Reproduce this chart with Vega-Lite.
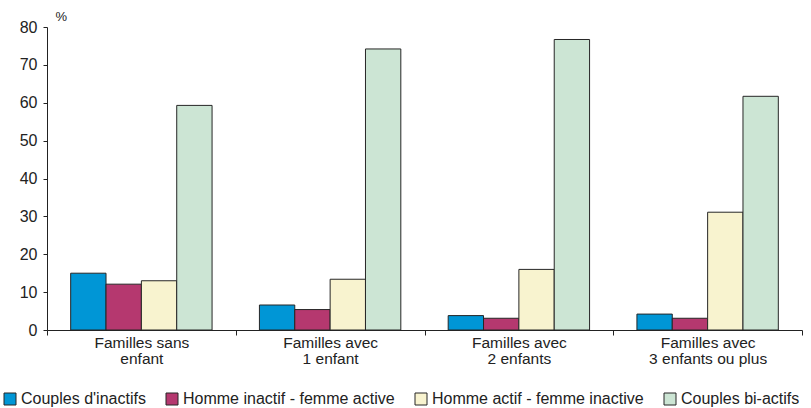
{
  "$schema": "https://vega.github.io/schema/vega-lite/v6.json",
  "autosize": "none",
  "width": 755,
  "height": 303,
  "padding": {"left": 47, "top": 27, "right": 9, "bottom": 78},
  "background": "white",
  "config": {
    "font": "Liberation Sans",
    "view": {"stroke": null},
    "axis": {"labelColor": "#222", "domainColor": "#222", "tickColor": "#222", "titleColor": "#222"}
  },
  "data": {
    "values": [
      {"famille": "Familles sans enfant", "type": "Couples d'inactifs", "pct": 15.0},
      {"famille": "Familles sans enfant", "type": "Homme inactif - femme active", "pct": 12.1},
      {"famille": "Familles sans enfant", "type": "Homme actif - femme inactive", "pct": 13.0},
      {"famille": "Familles sans enfant", "type": "Couples bi-actifs", "pct": 59.3},
      {"famille": "Familles avec 1 enfant", "type": "Couples d'inactifs", "pct": 6.6},
      {"famille": "Familles avec 1 enfant", "type": "Homme inactif - femme active", "pct": 5.4},
      {"famille": "Familles avec 1 enfant", "type": "Homme actif - femme inactive", "pct": 13.4},
      {"famille": "Familles avec 1 enfant", "type": "Couples bi-actifs", "pct": 74.2},
      {"famille": "Familles avec 2 enfants", "type": "Couples d'inactifs", "pct": 3.8},
      {"famille": "Familles avec 2 enfants", "type": "Homme inactif - femme active", "pct": 3.1},
      {"famille": "Familles avec 2 enfants", "type": "Homme actif - femme inactive", "pct": 16.0},
      {"famille": "Familles avec 2 enfants", "type": "Couples bi-actifs", "pct": 76.7},
      {"famille": "Familles avec 3 enfants ou plus", "type": "Couples d'inactifs", "pct": 4.2},
      {"famille": "Familles avec 3 enfants ou plus", "type": "Homme inactif - femme active", "pct": 3.1},
      {"famille": "Familles avec 3 enfants ou plus", "type": "Homme actif - femme inactive", "pct": 31.1},
      {"famille": "Familles avec 3 enfants ou plus", "type": "Couples bi-actifs", "pct": 61.7}
    ]
  },
  "mark": {"type": "bar", "stroke": "#262626", "strokeWidth": 1},
  "encoding": {
    "x": {
      "field": "famille",
      "type": "nominal",
      "sort": null,
      "title": null,
      "scale": {"paddingInner": 0, "paddingOuter": 0},
      "axis": {
        "labelAngle": 0,
        "labelFontSize": 15.5,
        "labelPadding": 0,
        "labelLineHeight": 16,
        "tickSize": 5,
        "tickBand": "extent",
        "labelExpr": "isString(datum.value) ? [slice(datum.value, 0, 13), slice(datum.value, 14)] : ''"
      }
    },
    "xOffset": {
      "field": "type",
      "type": "nominal",
      "sort": null,
      "scale": {"paddingInner": 0, "paddingOuter": 0.67}
    },
    "y": {
      "field": "pct",
      "type": "quantitative",
      "scale": {"domain": [0, 80]},
      "axis": {
        "values": [0, 10, 20, 30, 40, 50, 60, 70, 80],
        "grid": false,
        "tickSize": 4,
        "labelFontSize": 16,
        "labelPadding": 6,
        "title": "%",
        "titleAngle": 0,
        "titleFontSize": 13,
        "titleFontWeight": "normal",
        "titleAlign": "left",
        "titleBaseline": "bottom",
        "titleX": 8,
        "titleY": -4
      }
    },
    "color": {
      "field": "type",
      "type": "nominal",
      "scale": {
        "domain": ["Couples d'inactifs", "Homme inactif - femme active", "Homme actif - femme inactive", "Couples bi-actifs"],
        "range": ["#0096d6", "#b5386f", "#f8f3cf", "#cce5d4"]
      },
      "legend": {
        "title": null,
        "orient": "none",
        "legendX": -45,
        "legendY": 364,
        "direction": "horizontal",
        "symbolType": "square",
        "symbolSize": 144,
        "symbolStrokeColor": "#262626",
        "symbolStrokeWidth": 1,
        "symbolOpacity": 1,
        "labelFontSize": 16,
        "labelColor": "#222",
        "labelOffset": 3,
        "columnPadding": 18,
        "labelLimit": 300
      }
    }
  }
}
